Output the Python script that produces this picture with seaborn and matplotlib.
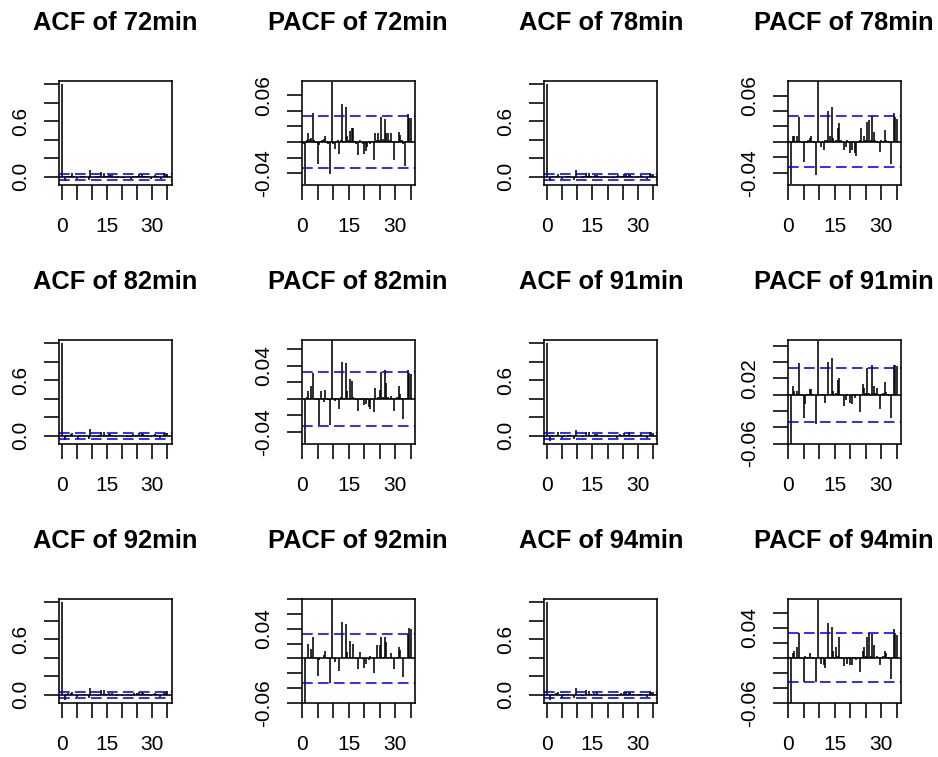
import numpy as np
import matplotlib
matplotlib.use("Agg")
import matplotlib.pyplot as plt
import seaborn as sns

# ---------------- data ----------------
series = ["72min", "78min", "82min", "91min", "92min", "94min"]
acf_lags = np.arange(0, 35.5, 0.5)      # 0 .. 35
pacf_lags = np.arange(0.5, 35.5, 0.5)   # 0.5 .. 35
clim = [0.033, 0.033, 0.033, 0.033, 0.033, 0.033]

pacf_72 = [-0.002, -0.054, 0.002, 0.011, 0.004, 0.005, 0.037, 0.002, -0.001, -0.028,
           -0.004, 0.001, 0.002, 0.004, 0.008, 0.001, -0.002, -0.041, 0.077, -0.002,
           -0.009, 0.001, 0.002, -0.015, 0.002, 0.048, 0.001, 0.045, 0.008, 0.002,
           0.014, 0.018, 0.018, 0.001, -0.002, -0.017, 0.003, 0.001, -0.002, -0.015,
           -0.011, -0.006, 0.001, -0.003, 0.001, -0.023, 0.011, 0.002, 0.011, 0.003,
           0.032, 0.004, 0.029, 0.011, 0.011, 0.002, 0.011, 0.001, -0.023, 0.001,
           -0.001, 0.013, 0.009, 0.002, -0.002, -0.031, 0.001, 0.036, 0.031, 0.031]
pacf_78 = [0.001, -0.055, 0.008, 0.008, 0.001, 0.008, 0.032, 0.001, -0.002, -0.026,
           0.001, -0.001, 0.002, 0.005, 0.008, 0.001, -0.002, -0.043, 0.079, 0.001,
           -0.007, -0.001, -0.010, 0.002, 0.002, 0.040, 0.007, 0.045, 0.005, 0.001,
           0.002, 0.018, 0.024, 0.002, -0.001, -0.010, -0.007, 0.003, -0.001, -0.014,
           -0.010, 0.001, -0.015, -0.019, 0.001, 0.002, 0.018, 0.001, 0.008, 0.002,
           0.026, 0.029, 0.002, 0.033, 0.013, 0.002, 0.001, -0.001, -0.013, 0.002,
           0.001, 0.015, 0.003, 0.001, -0.002, -0.029, 0.001, 0.037, 0.032, 0.030]
pacf_82 = [0.001, -0.054, 0.002, 0.010, 0.001, 0.016, 0.031, 0.001, -0.001, 0.001,
           -0.032, 0.009, 0.001, -0.004, 0.011, 0.001, -0.001, -0.032, 0.0712, 0.001,
           -0.003, 0.001, 0.001, -0.013, 0.002, 0.045, 0.001, 0.044, 0.010, 0.001,
           0.024, 0.022, 0.002, 0.001, -0.001, -0.015, 0.001, -0.001, 0.001, -0.008,
           -0.006, 0.001, -0.010, -0.012, 0.001, -0.016, 0.013, 0.001, 0.002, 0.011,
           0.032, 0.002, 0.035, 0.019, 0.002, 0.001, 0.003, 0.001, -0.015, 0.001,
           0.002, 0.016, 0.006, 0.001, -0.025, 0.001, 0.001, 0.035, 0.031, 0.030]
pacf_91 = [0.001, -0.060, 0.010, 0.005, 0.001, 0.005, 0.039, 0.001, -0.002, -0.029,
           -0.011, 0.001, 0.001, 0.007, 0.007, 0.001, -0.001, -0.036, 0.066, 0.001,
           -0.001, 0.001, 0.001, -0.010, 0.001, 0.040, 0.001, 0.045, 0.005, 0.001,
           0.002, 0.018, 0.021, 0.001, -0.001, -0.014, -0.007, 0.001, -0.001, -0.010,
           -0.011, 0.001, -0.004, 0.001, -0.001, -0.021, 0.001, 0.013, 0.008, 0.002,
           0.033, 0.002, 0.001, 0.036, 0.010, 0.002, 0.008, 0.001, -0.018, 0.001,
           0.002, 0.016, 0.003, 0.001, -0.002, -0.029, 0.001, 0.036, 0.036, 0.035]
pacf_92 = [0.001, -0.060, 0.002, 0.019, 0.001, 0.013, 0.029, 0.001, -0.001, -0.024,
           -0.002, 0.001, 0.001, 0.004, 0.010, 0.001, -0.001, -0.034, 0.080, 0.001,
           -0.005, 0.001, 0.001, -0.017, 0.001, 0.049, 0.001, 0.047, 0.008, 0.001,
           0.024, 0.002, 0.019, 0.001, -0.001, -0.014, 0.008, 0.001, -0.001, -0.013,
           -0.008, 0.001, -0.002, 0.003, 0.001, -0.020, 0.001, 0.018, 0.001, 0.018,
           0.029, 0.002, 0.029, 0.022, 0.002, 0.001, 0.007, 0.001, -0.015, 0.001,
           0.002, 0.016, 0.012, 0.001, -0.025, 0.001, 0.001, 0.033, 0.041, 0.040]
pacf_94 = [0.001, -0.060, 0.007, 0.009, 0.001, 0.015, 0.033, 0.001, -0.001, -0.032,
           0.003, 0.001, 0.001, 0.006, 0.001, 0.001, -0.001, -0.032, 0.078, 0.001,
           -0.008, 0.001, -0.010, -0.014, 0.001, 0.047, 0.001, 0.041, 0.009, 0.001,
           0.014, 0.002, 0.028, 0.001, -0.001, -0.011, 0.001, -0.008, 0.001, -0.009,
           -0.009, 0.001, 0.001, -0.003, 0.001, -0.019, 0.001, 0.009, 0.015, 0.002,
           0.028, 0.033, 0.002, 0.032, 0.017, 0.001, 0.003, 0.001, -0.009, 0.001,
           0.002, 0.009, 0.007, 0.001, -0.002, -0.028, 0.001, 0.039, 0.033, 0.031]

acf_72 = [1.0, -0.002, -0.050, 0.002, 0.010, 0.004, 0.006, 0.035, 0.002, -0.001, -0.026,
          -0.004, 0.001, 0.002, 0.005, 0.008, 0.001, -0.002, -0.038, 0.072, -0.002,
          -0.008, 0.001, 0.002, -0.014, 0.002, 0.046, 0.001, 0.043, 0.008, 0.002,
          0.014, 0.018, 0.017, 0.001, -0.002, -0.016, 0.003, 0.001, -0.002, -0.014,
          -0.011, -0.006, 0.001, -0.003, 0.001, -0.022, 0.011, 0.002, 0.011, 0.003,
          0.031, 0.004, 0.028, 0.011, 0.011, 0.002, 0.011, 0.001, -0.022, 0.001,
          -0.001, 0.013, 0.009, 0.002, -0.002, -0.030, 0.001, 0.035, 0.030, 0.030]
acf_78 = [1.0, 0.001, -0.052, 0.008, 0.008, 0.001, 0.008, 0.031, 0.001, -0.002, -0.025,
          0.001, -0.001, 0.002, 0.005, 0.008, 0.001, -0.002, -0.041, 0.074, 0.001,
          -0.007, -0.001, -0.010, 0.002, 0.002, 0.039, 0.007, 0.043, 0.005, 0.001,
          0.002, 0.018, 0.023, 0.002, -0.001, -0.010, -0.007, 0.003, -0.001, -0.014,
          -0.010, 0.001, -0.015, -0.018, 0.001, 0.002, 0.018, 0.001, 0.008, 0.002,
          0.025, 0.028, 0.002, 0.032, 0.013, 0.002, 0.001, -0.001, -0.013, 0.002,
          0.001, 0.015, 0.003, 0.001, -0.002, -0.028, 0.001, 0.036, 0.031, 0.029]
acf_82 = [1.0, 0.001, -0.051, 0.002, 0.010, 0.001, 0.016, 0.030, 0.001, -0.001, 0.001,
          -0.031, 0.009, 0.001, -0.004, 0.011, 0.001, -0.001, -0.031, 0.068, 0.001,
          -0.003, 0.001, 0.001, -0.013, 0.002, 0.044, 0.001, 0.043, 0.010, 0.001,
          0.023, 0.022, 0.002, 0.001, -0.001, -0.015, 0.001, -0.001, 0.001, -0.008,
          -0.006, 0.001, -0.010, -0.012, 0.001, -0.016, 0.013, 0.001, 0.002, 0.011,
          0.031, 0.002, 0.034, 0.019, 0.002, 0.001, 0.003, 0.001, -0.015, 0.001,
          0.002, 0.016, 0.006, 0.001, -0.024, 0.001, 0.001, 0.034, 0.030, 0.029]
acf_91 = [1.0, 0.001, -0.056, 0.010, 0.005, 0.001, 0.005, 0.037, 0.001, -0.002, -0.028,
          -0.011, 0.001, 0.001, 0.007, 0.007, 0.001, -0.001, -0.034, 0.063, 0.001,
          -0.001, 0.001, 0.001, -0.010, 0.001, 0.039, 0.001, 0.044, 0.005, 0.001,
          0.002, 0.018, 0.020, 0.001, -0.001, -0.014, -0.007, 0.001, -0.001, -0.010,
          -0.011, 0.001, -0.004, 0.001, -0.001, -0.020, 0.001, 0.013, 0.008, 0.002,
          0.032, 0.002, 0.001, 0.035, 0.010, 0.002, 0.008, 0.001, -0.017, 0.001,
          0.002, 0.016, 0.003, 0.001, -0.002, -0.028, 0.001, 0.035, 0.035, 0.034]
acf_92 = [1.0, 0.001, -0.056, 0.002, 0.018, 0.001, 0.013, 0.028, 0.001, -0.001, -0.023,
          -0.002, 0.001, 0.001, 0.004, 0.010, 0.001, -0.001, -0.032, 0.076, 0.001,
          -0.005, 0.001, 0.001, -0.016, 0.001, 0.047, 0.001, 0.045, 0.008, 0.001,
          0.023, 0.002, 0.019, 0.001, -0.001, -0.014, 0.008, 0.001, -0.001, -0.013,
          -0.008, 0.001, -0.002, 0.003, 0.001, -0.019, 0.001, 0.018, 0.001, 0.018,
          0.028, 0.002, 0.028, 0.021, 0.002, 0.001, 0.007, 0.001, -0.015, 0.001,
          0.002, 0.016, 0.012, 0.001, -0.024, 0.001, 0.001, 0.032, 0.040, 0.039]
acf_94 = [1.0, 0.001, -0.056, 0.007, 0.009, 0.001, 0.015, 0.032, 0.001, -0.001, -0.031,
          0.003, 0.001, 0.001, 0.006, 0.001, 0.001, -0.001, -0.031, 0.074, 0.001,
          -0.008, 0.001, -0.010, -0.014, 0.001, 0.045, 0.001, 0.040, 0.009, 0.001,
          0.014, 0.002, 0.027, 0.001, -0.001, -0.011, 0.001, -0.008, 0.001, -0.009,
          -0.009, 0.001, 0.001, -0.003, 0.001, -0.018, 0.001, 0.009, 0.015, 0.002,
          0.027, 0.032, 0.002, 0.031, 0.017, 0.001, 0.003, 0.001, -0.009, 0.001,
          0.002, 0.009, 0.007, 0.001, -0.002, -0.027, 0.001, 0.038, 0.032, 0.030]

acf_vals = [acf_72, acf_78, acf_82, acf_91, acf_92, acf_94]
pacf_vals = [pacf_72, pacf_78, pacf_82, pacf_91, pacf_92, pacf_94]

x_ticks = [0, 5, 10, 15, 20, 25, 30, 35]
x_ticklabels = ["0", "", "", "15", "", "", "30", ""]

acf_yticks = [0.0, 0.2, 0.4, 0.6, 0.8, 1.0]
acf_yticklabels = ["0.0", "", "", "0.6", "", ""]
pacf_yticks = [
    [-0.04, -0.02, 0.0, 0.02, 0.04, 0.06],
    [-0.04, -0.02, 0.0, 0.02, 0.04, 0.06],
    [-0.04, -0.02, 0.0, 0.02, 0.04, 0.06],
    [-0.06, -0.04, -0.02, 0.0, 0.02, 0.04, 0.06],
    [-0.06, -0.04, -0.02, 0.0, 0.02, 0.04, 0.06, 0.08],
    [-0.06, -0.04, -0.02, 0.0, 0.02, 0.04, 0.06],
]
pacf_yticklabels = [
    ["-0.04", "", "", "", "", "0.06"],
    ["-0.04", "", "", "", "", "0.06"],
    ["-0.04", "", "", "", "0.04", ""],
    ["-0.06", "", "", "", "0.02", "", ""],
    ["-0.06", "", "", "", "", "0.04", "", ""],
    ["-0.06", "", "", "", "", "0.04", ""],
]
pacf_ylim = [(-0.055, 0.078), (-0.056, 0.079), (-0.055, 0.0715),
             (-0.0605, 0.067), (-0.0605, 0.0805), (-0.0605, 0.0788)]
acf_ylim = (-0.09, 1.032)

# ---------------- style ----------------
sns.set_theme(style="ticks")
plt.rcParams["font.family"] = ["Liberation Sans", "DejaVu Sans"]
plt.rcParams["text.color"] = "black"
plt.rcParams["axes.titlecolor"] = "black"
plt.rcParams["axes.edgecolor"] = "black"
plt.rcParams["axes.linewidth"] = 1.1

W, H = 938, 757
fig = plt.figure(figsize=(W / 100, H / 100), dpi=100)
fig.patch.set_facecolor("white")

col_x = [59, 301.7, 544.4, 787.7]
row_y = [81, 340, 599]
bw, bh = 113, 104
LW = 1.15
dash = (0, (7.7 / LW, 3.8 / LW))


def style_axes(ax):
    for s in ax.spines.values():
        s.set_visible(True)
        s.set_color("black")
        s.set_linewidth(LW)
    ax.tick_params(axis="both", direction="out", length=10.8, width=LW,
                   colors="black", labelcolor="black", labelsize=15)
    ax.tick_params(axis="x", pad=12.0)
    ax.tick_params(axis="y", pad=10.0)
    ax.set_facecolor("white")
    ax.grid(False)


def draw(ax, lags, vals, cl, title, xlim, ylim, yticks, ylabels):
    ax.vlines(lags, 0, vals, colors="black", linewidth=LW)
    ax.axhline(0, color="black", linewidth=LW)
    ax.axhline(cl, color="blue", linewidth=LW, linestyle=dash)
    ax.axhline(-cl, color="blue", linewidth=LW, linestyle=dash)
    ax.set_xlim(*xlim)
    ax.set_ylim(*ylim)
    ax.set_xticks(x_ticks)
    ax.set_xticklabels(x_ticklabels)
    ax.set_yticks(yticks)
    ax.set_yticklabels(ylabels, rotation=90, va="center")
    ax.set_title(title, fontsize=18.4, fontweight="bold", pad=37, color="black")
    ax.set_xlabel("")
    ax.set_ylabel("")
    style_axes(ax)


for i, name in enumerate(series):
    r = i // 2
    c0 = (i % 2) * 2
    y0 = row_y[r]
    # ACF
    ax = fig.add_axes([col_x[c0] / W, 1 - (y0 + bh) / H, bw / W, bh / H])
    draw(ax, acf_lags, acf_vals[i], clim[i], f"ACF of {name}",
         (-0.9, 36.5), acf_ylim, acf_yticks, acf_yticklabels)
    # PACF
    ax = fig.add_axes([col_x[c0 + 1] / W, 1 - (y0 + bh) / H, bw / W, bh / H])
    draw(ax, pacf_lags, pacf_vals[i], clim[i], f"PACF of {name}",
         (-0.1, 36.2), pacf_ylim[i], pacf_yticks[i], pacf_yticklabels[i])

fig.savefig("out.png", dpi=100, facecolor="white")
